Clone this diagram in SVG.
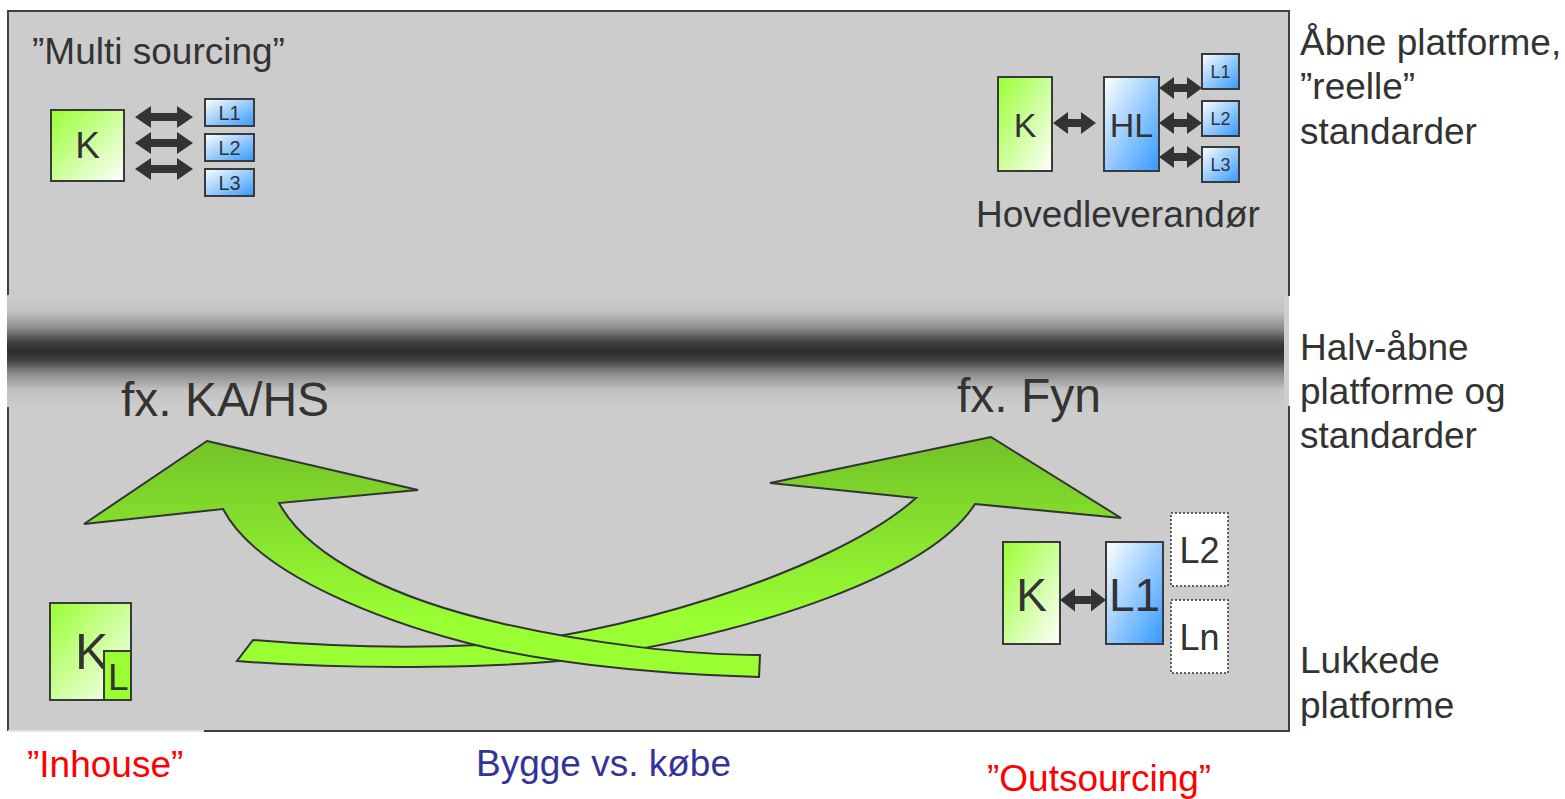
<svg xmlns="http://www.w3.org/2000/svg" width="1565" height="799" viewBox="0 0 1565 799">
<style>
text{font-family:"Liberation Sans",Arial,Helvetica,sans-serif;fill:#333}
.box{stroke:#3a3a3a;stroke-width:2}
.g{fill:url(#gGreen)}
.b{fill:url(#gBlue)}
.dot{fill:#fff;stroke:#333;stroke-width:1.5;stroke-dasharray:2 2}
.dbl{fill:#333}
.big{fill:url(#gArrow);stroke:#333;stroke-width:2;stroke-linejoin:miter}
.red{fill:#ff0000}
</style>
<defs>
<linearGradient id="gGreen" x1="0" y1="0" x2="1" y2="1">
<stop offset="0" stop-color="#99ff33"/><stop offset="1" stop-color="#ffffff"/>
</linearGradient>
<linearGradient id="gBlue" x1="0" y1="0" x2="1" y2="1">
<stop offset="0" stop-color="#ffffff"/><stop offset="1" stop-color="#3399ff"/>
</linearGradient>
<linearGradient id="gBand" x1="0" y1="0" x2="0" y2="1">
<stop offset="0" stop-color="#cccccc"/>
<stop offset="0.15" stop-color="#c2c2c2"/>
<stop offset="0.3" stop-color="#8a8a8a"/>
<stop offset="0.42" stop-color="#404040"/>
<stop offset="0.5" stop-color="#2c2c2c"/>
<stop offset="0.58" stop-color="#404040"/>
<stop offset="0.7" stop-color="#8a8a8a"/>
<stop offset="0.85" stop-color="#c2c2c2"/>
<stop offset="1" stop-color="#cccccc"/>
</linearGradient>
<linearGradient id="gArrow" gradientUnits="userSpaceOnUse" x1="0" y1="437" x2="0" y2="620">
<stop offset="0" stop-color="#72c228"/><stop offset="1" stop-color="#99ff33"/>
</linearGradient>
</defs>

<g id="panel">
<rect x="8" y="11" width="1281" height="720" fill="#cccccc"/>
<path d="M8,296 L8,11 L1289,11 L1289,296 M1289,406 L1289,731 L204,731 M8,406 L8,731" fill="none" stroke="#404040" stroke-width="2"/>
<line x1="8" y1="731" x2="204" y2="731" stroke="#e2e2e2" stroke-width="2"/>
<rect x="7" y="295" width="1277" height="112" fill="url(#gBand)"/>
<rect x="1284" y="295" width="3" height="112" fill="#cfcfcf"/>
</g>

<g id="multi-sourcing">
<text x="32" y="64" font-size="37">”Multi sourcing”</text>
<rect class="box g" x="51" y="110" width="73" height="71"/>
<text x="87.5" y="158" font-size="37" text-anchor="middle">K</text>
<rect class="box b" x="205" y="99" width="49" height="27"/>
<text x="229.5" y="120" font-size="20" text-anchor="middle">L1</text>
<rect class="box b" x="205" y="134" width="49" height="27"/>
<text x="229.5" y="155" font-size="20" text-anchor="middle">L2</text>
<rect class="box b" x="205" y="169" width="49" height="27"/>
<text x="229.5" y="190" font-size="20" text-anchor="middle">L3</text>
</g>

<g id="hovedleverandor">
<rect class="box g" x="998" y="77" width="54" height="94"/>
<text x="1025" y="137" font-size="34" text-anchor="middle">K</text>
<rect class="box b" x="1104" y="77" width="55" height="94"/>
<text x="1131.5" y="137" font-size="34" text-anchor="middle">HL</text>
<rect class="box b" x="1202" y="54" width="37" height="35"/>
<text x="1220.5" y="78" font-size="18" text-anchor="middle">L1</text>
<rect class="box b" x="1202" y="101" width="37" height="35"/>
<text x="1220.5" y="125" font-size="18" text-anchor="middle">L2</text>
<rect class="box b" x="1202" y="147" width="37" height="35"/>
<text x="1220.5" y="171" font-size="18" text-anchor="middle">L3</text>
<text x="976" y="227" font-size="37">Hovedleverandør</text>
</g>

<g id="outsourcing-group">
<rect class="box g" x="1003" y="542" width="57" height="102"/>
<text x="1031.5" y="611" font-size="46" text-anchor="middle">K</text>
<rect class="box b" x="1106" y="542" width="57" height="102"/>
<text x="1134.5" y="611" font-size="46" text-anchor="middle">L1</text>
<rect class="dot" x="1171" y="513" width="57" height="73"/>
<text x="1199.5" y="563" font-size="36" text-anchor="middle">L2</text>
<rect class="dot" x="1171" y="600" width="57" height="73"/>
<text x="1199.5" y="650" font-size="36" text-anchor="middle">Ln</text>
</g>

<g id="inhouse-group">
<rect class="box g" x="50" y="603" width="81" height="97"/>
<text x="75" y="669" font-size="50">K</text>
<rect class="box" x="104" y="651" width="27" height="49" fill="#99ff33"/>
<text x="108" y="690" font-size="37">L</text>
</g>

<g id="connectors">
<path class="dbl" d="M135,117 L151,106 L151,113 L177,113 L177,106 L193,117 L177,128 L177,121 L151,121 L151,128 Z"/>
<path class="dbl" d="M135,143 L151,132 L151,139 L177,139 L177,132 L193,143 L177,154 L177,147 L151,147 L151,154 Z"/>
<path class="dbl" d="M135,169 L151,158 L151,165 L177,165 L177,158 L193,169 L177,180 L177,173 L151,173 L151,180 Z"/>
<path class="dbl" d="M1053,123 L1068,112 L1068,119 L1081,119 L1081,112 L1096,123 L1081,134 L1081,127 L1068,127 L1068,134 Z"/>
<path class="dbl" d="M1159,88 L1174,77 L1174,84 L1187,84 L1187,77 L1202,88 L1187,99 L1187,92 L1174,92 L1174,99 Z"/>
<path class="dbl" d="M1159,123 L1174,112 L1174,119 L1187,119 L1187,112 L1202,123 L1187,134 L1187,127 L1174,127 L1174,134 Z"/>
<path class="dbl" d="M1159,157 L1174,146 L1174,153 L1187,153 L1187,146 L1202,157 L1187,168 L1187,161 L1174,161 L1174,168 Z"/>
<path class="dbl" d="M1060,600 L1075,588.5 L1075,596 L1091,596 L1091,588.5 L1106,600 L1091,611.5 L1091,604 L1075,604 L1075,611.5 Z"/>
</g>

<g id="arrow-outsourcing">
<path class="big" d="M253,640 Q370,650 480,645 C600,640 830,575 916,498 L770,483 L991,437 L1121,518 L975,504 C930,575 760,630 600,656 C520,669 350,670 237,661 Z"/>
</g>
<g id="arrow-inhouse">
<path class="big" d="M207,441 L418,490 L279,503 C310,560 400,600 500,623 C590,644 690,655 760,655 L759,677 C640,674 530,660 460,641 C400,625 260,580 223,509 L84,524 Z"/>
</g>

<g id="labels">
<text x="121" y="416" font-size="48">fx. KA/HS</text>
<text x="957" y="412" font-size="48">fx. Fyn</text>
<text x="1300" y="55" font-size="37">Åbne platforme,</text>
<text x="1300" y="99" font-size="37">”reelle”</text>
<text x="1300" y="144" font-size="37">standarder</text>
<text x="1300" y="360" font-size="37">Halv-åbne</text>
<text x="1300" y="404" font-size="37">platforme og</text>
<text x="1300" y="448" font-size="37">standarder</text>
<text x="1300" y="673" font-size="37">Lukkede</text>
<text x="1300" y="718" font-size="37">platforme</text>
<text class="red" x="27" y="777" font-size="37">”Inhouse”</text>
<text x="476" y="776" font-size="37" style="fill:#333399">Bygge vs. købe</text>
<text class="red" x="987" y="791" font-size="37">”Outsourcing”</text>
</g>
</svg>
